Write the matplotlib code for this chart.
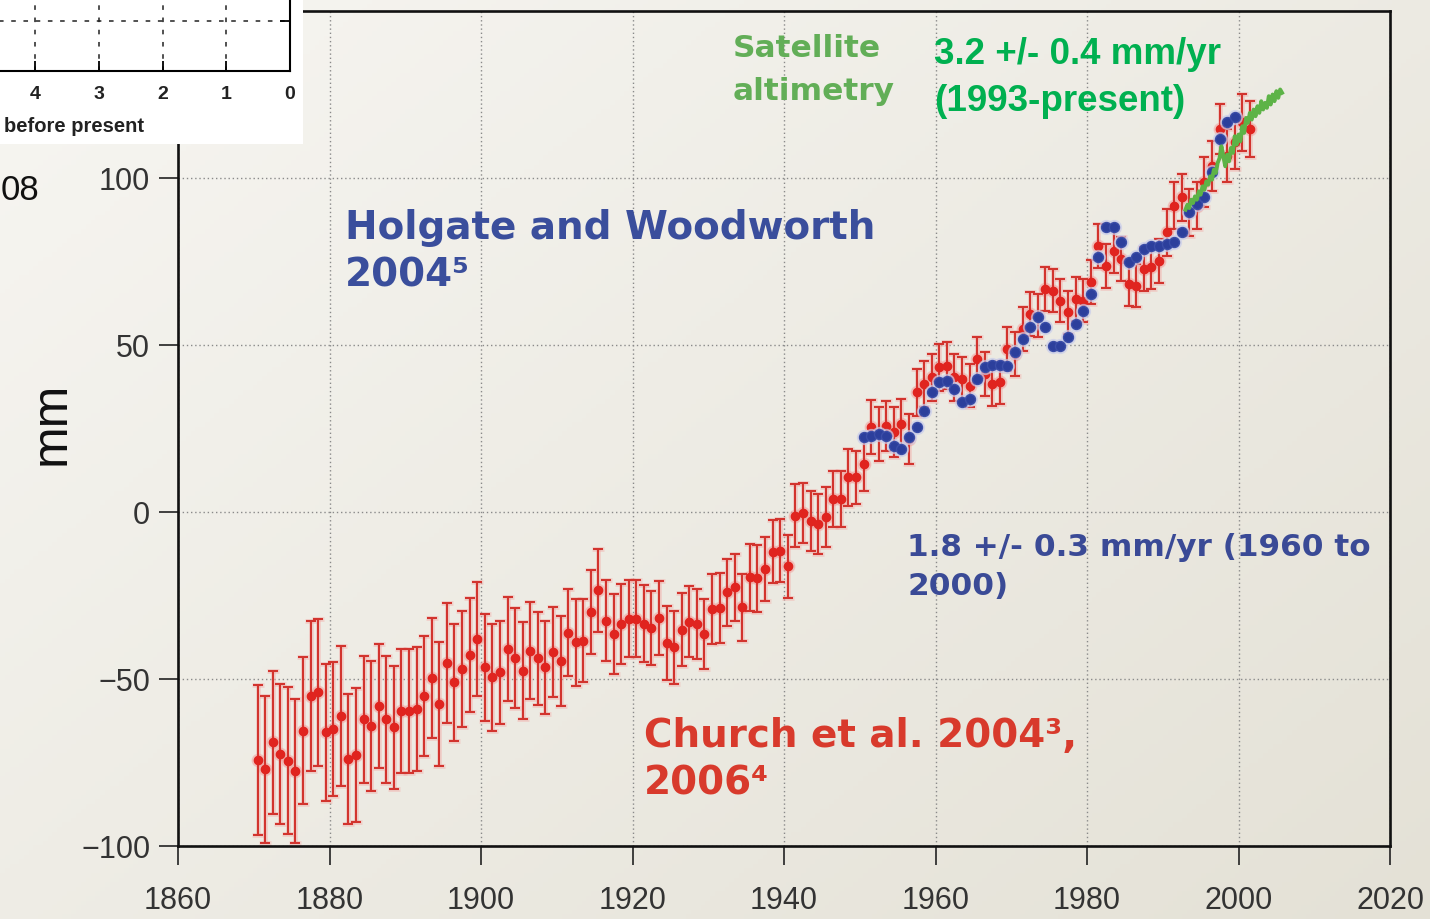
import numpy as np
import matplotlib
matplotlib.use("Agg")
import matplotlib.pyplot as plt

W, H = 1430, 920

# ---------------- data ----------------
church_years = list(range(1870, 2002))
church_mm = [
    -74.3, -77.0, -69.0, -72.5, -74.5, -77.6, -65.5, -55.0, -54.0, -66.0,
    -65.0, -61.0, -74.0, -72.8, -62.0, -64.0, -58.0, -62.0, -64.5, -59.5,
    -59.5, -59.0, -55.0, -49.7, -57.5, -45.2, -51.0, -47.0, -42.8, -38.0,
    -46.5, -49.5, -48.0, -41.0, -43.8, -47.5, -41.5, -43.8, -46.5, -42.0,
    -44.5, -36.2, -39.0, -38.5, -30.0, -23.5, -32.5, -36.5, -33.5, -32.0,
    -32.0, -33.5, -34.8, -31.8, -39.2, -40.5, -35.2, -32.8, -33.5, -36.5,
    -29.0, -28.8, -24.0, -22.5, -28.5, -19.5, -19.8, -17.0, -11.9, -11.6,
    -16.3, -1.1, -0.3, -2.6, -3.6, -1.6, 3.9, 3.9, 10.4, 10.4,
    14.4, 25.4, 23.4, 25.8, 23.9, 26.3, 21.9, 35.8, 38.3, 40.3,
    43.3, 43.8, 40.3, 39.8, 37.8, 45.8, 41.3, 38.3, 38.8, 48.8,
    47.3, 54.8, 59.3, 58.8, 66.8, 66.3, 63.3, 59.8, 63.8, 63.3,
    68.8, 79.7, 73.7, 78.2, 75.7, 68.3, 67.8, 72.8, 73.3, 75.2,
    83.7, 91.7, 94.2, 89.7, 91.7, 98.7, 103.7, 114.7, 106.7, 110.7,
    116.7, 114.7,
]
church_err = [
    22.5, 22.0, 21.5, 21.0, 22.0, 21.5, 22.0, 22.5, 22.0, 20.5,
    20.0, 21.0, 19.5, 20.0, 19.0, 19.5, 18.5, 19.0, 18.5, 18.5,
    18.5, 18.5, 18.0, 18.0, 18.5, 18.0, 17.5, 17.5, 17.0, 17.0,
    16.0, 16.0, 15.5, 15.5, 15.0, 14.5, 14.5, 14.0, 14.0, 13.5,
    13.5, 13.0, 13.0, 12.5, 12.5, 12.5, 12.0, 12.0, 12.0, 11.5,
    11.5, 11.5, 11.0, 11.0, 11.0, 11.0, 11.0, 10.5, 10.5, 10.5,
    10.5, 10.5, 10.0, 10.0, 10.0, 10.0, 10.0, 9.5, 9.5, 9.5,
    9.5, 9.5, 9.0, 9.0, 9.0, 9.0, 8.5, 8.5, 8.5, 8.0,
    8.0, 8.0, 8.0, 7.5, 7.5, 7.5, 7.5, 7.0, 7.0, 7.0,
    7.0, 7.0, 7.0, 6.5, 6.5, 6.5, 6.5, 6.5, 6.5, 6.5,
    6.5, 6.5, 6.5, 6.5, 6.5, 6.5, 6.5, 6.5, 6.5, 6.5,
    6.5, 6.5, 6.5, 6.5, 6.5, 6.5, 6.5, 6.5, 6.5, 6.5,
    7.0, 7.0, 7.0, 7.0, 7.0, 7.5, 7.5, 7.5, 8.0, 8.0,
    8.5, 8.5,
]

holgate_years = list(range(1950, 2000))
holgate_mm = [
    22.4, 22.9, 23.4, 22.9, 19.9, 18.9, 22.4, 25.4, 30.3, 35.8,
    38.8, 39.3, 36.8, 32.8, 33.8, 39.8, 43.3, 44.0, 44.0, 43.8,
    47.8, 51.8, 55.3, 58.3, 55.3, 49.8, 49.8, 52.3, 56.3, 60.3,
    65.3, 76.3, 85.2, 85.2, 80.7, 74.8, 76.3, 78.7, 79.7, 79.7,
    80.2, 80.7, 83.7, 89.7, 92.2, 94.2, 101.7, 111.7, 116.7, 118.2,
]

sat_time = [
    1993.00, 1993.25, 1993.50, 1993.75, 1994.00, 1994.25, 1994.50, 1994.75,
    1995.00, 1995.25, 1995.50, 1995.75, 1996.00, 1996.25, 1996.50, 1996.75,
    1997.00, 1997.25, 1997.50, 1997.75, 1998.00, 1998.25, 1998.50, 1998.75,
    1999.00, 1999.25, 1999.50, 1999.75, 2000.00, 2000.25, 2000.50, 2000.75,
    2001.00, 2001.25, 2001.50, 2001.75, 2002.00, 2002.25, 2002.50, 2002.75,
    2003.00, 2003.25, 2003.50, 2003.75, 2004.00, 2004.25, 2004.50, 2004.75,
    2005.00, 2005.25, 2005.50, 2005.75,
]
sat_mm = [
    90.5, 92.0, 91.0, 93.5, 92.5, 94.5, 93.5, 96.0,
    95.0, 97.5, 96.5, 99.0, 98.0, 100.5, 99.5, 102.5,
    101.5, 104.5, 106.0, 109.5, 106.5, 103.5, 107.0, 105.0,
    109.0, 107.5, 112.5, 110.0, 113.0, 111.0, 115.5, 113.5,
    118.0, 116.5, 119.5, 117.5, 120.5, 118.5, 121.5, 119.5,
    123.0, 120.5, 122.5, 121.0, 124.5, 122.0, 125.0, 123.0,
    126.0, 124.0, 126.5, 125.5,
]

x_ticks = [1860, 1880, 1900, 1920, 1940, 1960, 1980, 2000, 2020]
y_ticks = [-100, -50, 0, 50, 100]
inset_ticks = [4, 3, 2, 1, 0]

# ---------------- figure ----------------
fig = plt.figure(figsize=(W / 100, H / 100), dpi=100)


def fx(px):
    return px / W


def fy(py):
    return 1 - py / H


# background gradient (slide background)
bg = fig.add_axes([0, 0, 1, 1], zorder=-10)
yy, xx = np.mgrid[0:1:200j, 0:1:300j]
t = 0.55 * xx + 0.45 * yy
c0 = np.array([247, 246, 242]) / 255.0
c1 = np.array([228, 225, 214]) / 255.0
img = c0[None, None, :] * (1 - t[..., None]) + c1[None, None, :] * t[..., None]
bg.imshow(img, aspect="auto", extent=[0, 1, 0, 1], origin="upper")
bg.set_axis_off()

ax = fig.add_axes([fx(178), fy(847), fx(1390) - fx(178), fy(12) - fy(847)])
ax.patch.set_alpha(0)
ax.set_xlim(1860, 2020)
ax.set_ylim(-100, 150)
ax.set_xticks(x_ticks)
ax.set_yticks(y_ticks)
ax.grid(True, linestyle=(0, (1, 2)), color="#8a8a8a", linewidth=1.0, zorder=0)
ax.set_axisbelow(True)
for s in ax.spines.values():
    s.set_linewidth(1.9)
    s.set_color("#111111")
ax.tick_params(direction="out", length=14, width=1.2, color="#222222",
               labelsize=22, labelcolor="#333333")
ax.tick_params(axis="x", pad=14)
ax.tick_params(axis="y", pad=6)
for lab in ax.get_xticklabels() + ax.get_yticklabels():
    lab.set_family("Liberation Sans")

church_t = np.array(church_years) + 0.5
holgate_t = np.array(holgate_years) + 0.5

# soft pink halo under the error bars (blurred look of the original)
ax.errorbar(church_t, church_mm, yerr=church_err, fmt="o", color="#F3A3A0",
            ecolor="#F3B0AC", elinewidth=3.5, capsize=4.2, capthick=3.5,
            markersize=9, alpha=0.45, zorder=2)
ax.errorbar(church_t, church_mm, yerr=church_err, fmt="o", color="#E0241F",
            ecolor="#D2342E", elinewidth=1.5, capsize=3.4, capthick=1.5,
            markersize=6, zorder=3)
ax.plot(holgate_t, holgate_mm, "o", color="#C9CDEB", markersize=10,
        alpha=0.6, zorder=3.5)
ax.plot(holgate_t, holgate_mm, "o", color="#2C3F9C", markersize=7.2,
        markeredgecolor="#3a4da8", zorder=4)
ax.plot(sat_time, sat_mm, color="#5DB347", linewidth=2.8, zorder=5)

# ---------------- annotations ----------------
dv = "DejaVu Sans"
fig.text(fx(733), fy(34), "Satellite\naltimetry", color="#62AE57", fontsize=22.5,
         fontweight="bold", family=dv, va="top", ha="left", linespacing=1.62)
fig.text(fx(934), fy(37), "3.2 +/- 0.4 mm/yr\n(1993-present)", color="#00B050",
         fontsize=26.5, fontweight="bold", family="Liberation Sans", va="top",
         ha="left", linespacing=1.45)
fig.text(fx(345), fy(209), "Holgate and Woodworth\n2004\u2075", color="#3A4E9C",
         fontsize=28, fontweight="bold", family=dv, va="top", ha="left",
         linespacing=1.33)
fig.text(fx(907), fy(533), "1.8 +/- 0.3 mm/yr (1960 to\n2000)", color="#3A4A96",
         fontsize=22.4, fontweight="bold", family=dv, va="top", ha="left",
         linespacing=1.42)
fig.text(fx(644), fy(717), "Church et al. 2004\u00b3,\n2006\u2074", color="#D83A2C",
         fontsize=28, fontweight="bold", family=dv, va="top", ha="left",
         linespacing=1.33)
fig.text(fx(52), fy(423), "mm", rotation=90, fontsize=36, ha="center",
         va="center", family="Liberation Sans", color="#111111")
fig.text(fx(1), fy(190), "08", fontsize=25, ha="left", va="center",
         family="Liberation Sans", color="#111111")

# ---------------- inset (top-left, partly cut off) ----------------
white = fig.add_axes([0, fy(145), fx(303), fy(0) - fy(145)], zorder=5)
white.set_facecolor("white")
white.set_xticks([])
white.set_yticks([])
for s in white.spines.values():
    s.set_visible(False)

ins = fig.add_axes([fx(-40), fy(72), fx(290) - fx(-40), fy(-40) - fy(72)], zorder=6)
ins.patch.set_alpha(0)
ins.set_xlim(4 + (35 + 40) / 63.75, 0)
ins.set_ylim(0, 1)
ins.set_xticks(inset_ticks)
ins.set_xticklabels([str(v) for v in inset_ticks], fontsize=14,
                    fontweight="bold", family="Liberation Sans", color="#222222")
ins.set_yticks([(72 - 22) / 112])
ins.yaxis.tick_right()
ins.set_yticklabels([])
ins.grid(True, linestyle=(0, (3, 5)), color="#222222", linewidth=1.1)
ins.tick_params(direction="in", length=7, width=1.3, pad=10)
for side in ["left", "top"]:
    ins.spines[side].set_visible(False)
for side in ["right", "bottom"]:
    ins.spines[side].set_linewidth(1.5)
fig.text(fx(4), fy(127), "before present", fontsize=14.5, fontweight="bold",
         family="Liberation Sans", color="#222222", ha="left", va="center",
         zorder=7)

fig.savefig("out.png", dpi=100)
